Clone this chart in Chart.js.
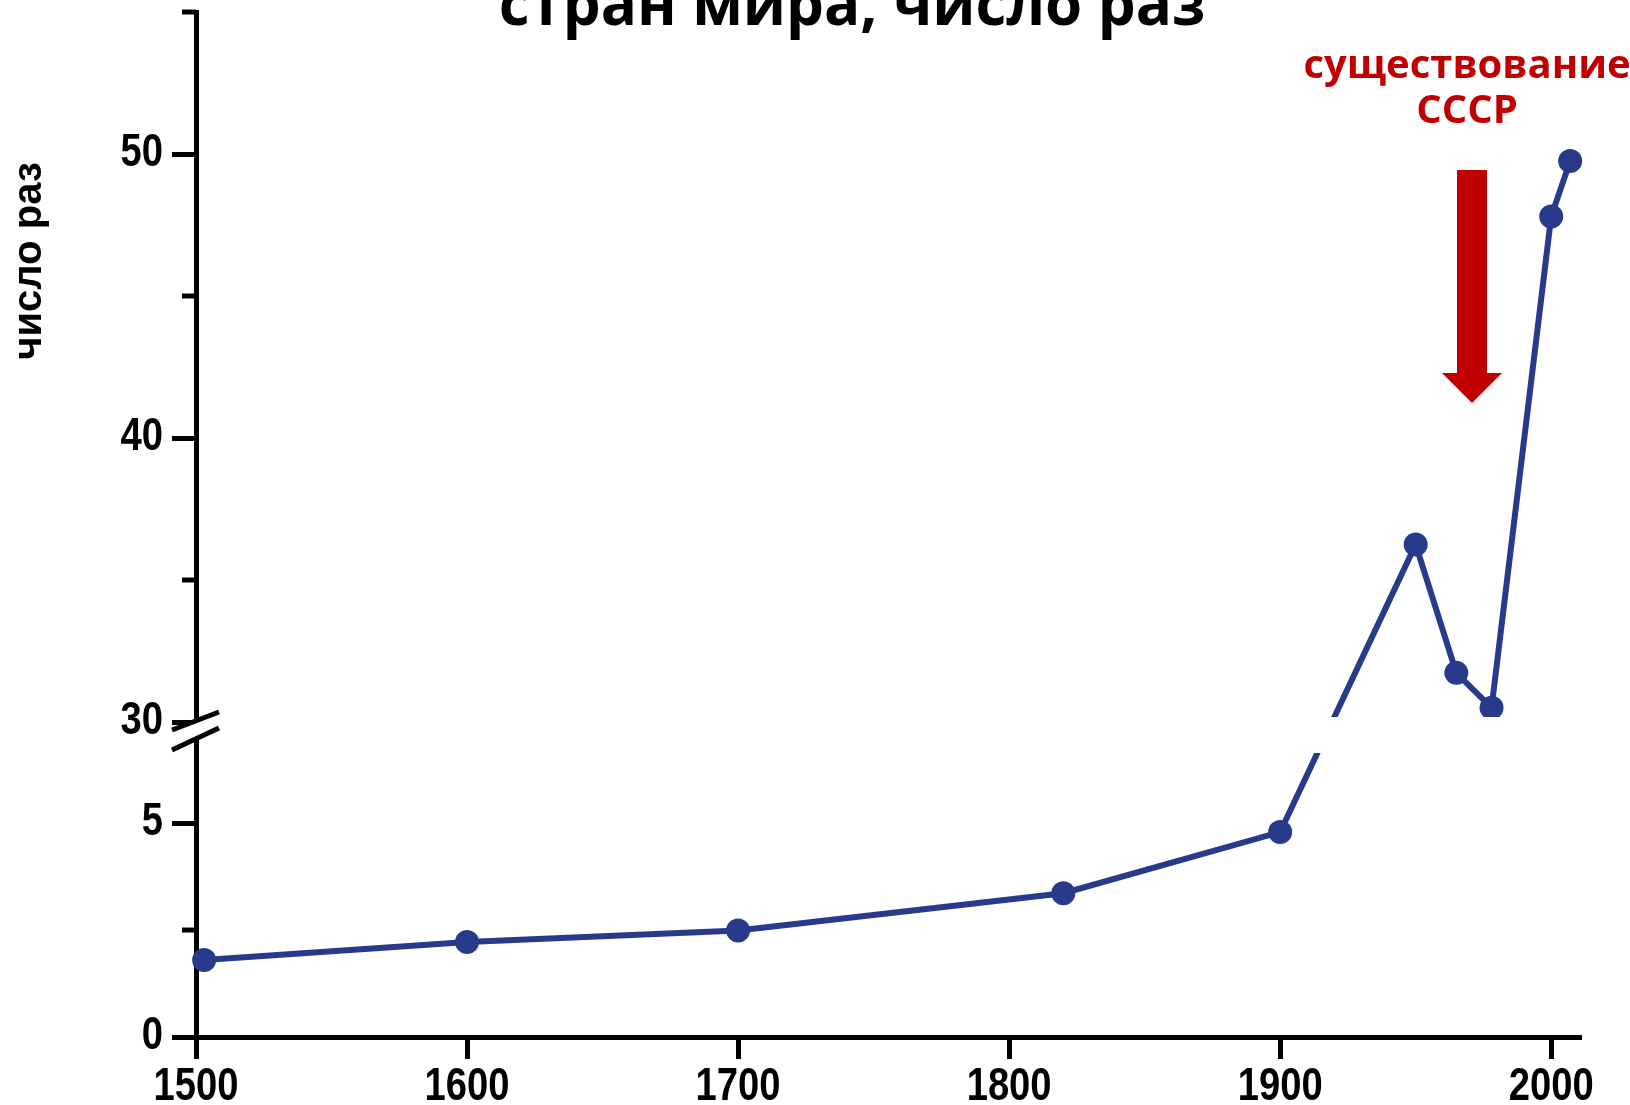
<!DOCTYPE html>
<html lang="ru">
<head>
<meta charset="utf-8">
<title>стран мира, число раз</title>
<script src="https://cdn.jsdelivr.net/npm/chart.js@4.4.1/dist/chart.umd.min.js"></script>
<style>
  html, body { margin: 0; padding: 0; background: #fff; }
  #wrap { width: 1630px; height: 1105px; }
</style>
</head>
<body>
<div id="wrap"><canvas id="line-chart" width="1630" height="1105"></canvas></div>
<script>
var years = [1503, 1600, 1700, 1820, 1900, 1950, 1965, 1978, 2000, 2007];
var ratio = [1.8, 2.22, 2.49, 3.36, 4.79, 36.25, 31.73, 30.5, 47.8, 49.75];
var xTicks = [1500, 1600, 1700, 1800, 1900, 2000];
var yTicks = [0, 5, 30, 40, 50];
var yMinorTicks = [2.5, 35, 45, 55];
var titleText = 'стран мира, число раз';
var yAxisText = 'число раз';
var noteLines = ['существование', 'СССР'];

var TICK_FONT = 'bold 46px "Liberation Sans", Arial, sans-serif';
var TEXT_FONT = '"Open Sans", "Noto Sans", sans-serif';
var BLUE = '#283a8a';
var RED = '#c00000';

// the y axis is broken: lower piece 0..6.8, a thin gap, upper piece 30..55
var LOW_TOP = 6.8, HIGH_BOTTOM = 30, Y_MAX = 55;
var pieces = [
    { from: 0, to: LOW_TOP, size: 291 },
    { from: LOW_TOP, to: HIGH_BOTTOM, size: 24 },
    { from: HIGH_BOTTOM, to: Y_MAX, size: 710 }
];
var total = pieces.reduce(function (s, p) { return s + p.size; }, 0);

class BrokenScale extends Chart.LinearScale {
    getPixelForValue(value) {
        var acc = 0;
        for (var i = 0; i < pieces.length; i++) {
            var p = pieces[i];
            if (value <= p.to || i === pieces.length - 1) {
                return this.getPixelForDecimal((acc + (value - p.from) / (p.to - p.from) * p.size) / total);
            }
            acc += p.size;
        }
    }
    getValueForPixel(pixel) {
        var d = this.getDecimalForPixel(pixel) * total, acc = 0;
        for (var i = 0; i < pieces.length; i++) {
            var p = pieces[i];
            if (d <= acc + p.size || i === pieces.length - 1) {
                return p.from + (d - acc) / p.size * (p.to - p.from);
            }
            acc += p.size;
        }
    }
}
BrokenScale.id = 'broken';
BrokenScale.defaults = Chart.LinearScale.defaults;
Chart.register(BrokenScale);

// narrow bold digits, like the original
function narrowText(ctx, text, x, y, align) {
    ctx.save();
    ctx.translate(x, y);
    ctx.scale(0.83, 1);
    ctx.textAlign = align;
    ctx.fillText(text, 0, 0);
    ctx.restore();
}

var decor = {
    id: 'decor',
    afterDatasetsDraw: function (chart) {
        var ctx = chart.ctx, ys = chart.scales.y, area = chart.chartArea;
        var ax = area.left;
        var p30 = ys.getPixelForValue(HIGH_BOTTOM), pLow = ys.getPixelForValue(LOW_TOP);
        ctx.save();
        // short ticks
        ctx.strokeStyle = '#000';
        ctx.lineWidth = 5;
        yMinorTicks.forEach(function (v) {
            var py = ys.getPixelForValue(v);
            ctx.beginPath();
            ctx.moveTo(ax - 14, py);
            ctx.lineTo(ax, py);
            ctx.stroke();
        });
        // break of the axis
        ctx.fillStyle = '#fff';
        ctx.fillRect(ax + 20, p30 - 5, area.right - ax - 20, pLow - p30 + 12);
        ctx.beginPath();
        ctx.moveTo(ax - 24, p30 + 8);
        ctx.lineTo(ax + 23, p30 - 10);
        ctx.lineTo(ax + 23, p30 + 6);
        ctx.lineTo(ax - 24, p30 + 28);
        ctx.closePath();
        ctx.fill();
        ctx.lineWidth = 5;
        ctx.beginPath();
        ctx.moveTo(ax - 24, p30 + 8);
        ctx.lineTo(ax + 23, p30 - 10);
        ctx.moveTo(ax - 24, p30 + 28);
        ctx.lineTo(ax + 23, p30 + 6);
        ctx.stroke();
        ctx.restore();
    },
    afterDraw: function (chart) {
        var ctx = chart.ctx, xs = chart.scales.x, ys = chart.scales.y;
        var ax = chart.chartArea.left;
        ctx.save();
        ctx.fillStyle = '#000';
        ctx.textBaseline = 'alphabetic';

        // tick labels
        ctx.font = TICK_FONT;
        xs.ticks.forEach(function (t) {
            narrowText(ctx, String(t.value), xs.getPixelForValue(t.value), 1100, 'center');
        });
        ys.ticks.forEach(function (t) {
            narrowText(ctx, String(t.value), ax - 33, ys.getPixelForValue(t.value) + 12, 'right');
        });

        ctx.textAlign = 'center';
        ctx.font = 'bold 60px ' + TEXT_FONT;
        ctx.fillText(titleText, 852, 25);

        ctx.save();
        ctx.translate(30, 261);
        ctx.rotate(-Math.PI / 2);
        ctx.font = 'bold 40px "Liberation Sans", Arial, sans-serif';
        ctx.textBaseline = 'middle';
        ctx.fillText(yAxisText, 0, 0);
        ctx.restore();

        ctx.fillStyle = RED;
        ctx.font = 'bold 40px ' + TEXT_FONT;
        ctx.fillText(noteLines[0], 1467, 78);
        ctx.fillText(noteLines[1], 1467, 123);

        // arrow
        ctx.fillRect(1457, 170, 30, 204);
        ctx.beginPath();
        ctx.moveTo(1442, 373);
        ctx.lineTo(1502, 373);
        ctx.lineTo(1472, 403);
        ctx.closePath();
        ctx.fill();
        ctx.restore();
    }
};

function noPad(s) {
    s.paddingTop = 0;
    s.paddingBottom = 0;
    s.paddingLeft = 0;
    s.paddingRight = 0;
}

const lineChart = document.getElementById('line-chart');
var CHART = new Chart(lineChart, {
    type: 'line',
    data: {
        datasets: [{
            data: years.map(function (y, i) { return { x: y, y: ratio[i] }; }),
            borderColor: BLUE,
            backgroundColor: BLUE,
            borderWidth: 6,
            pointRadius: 12,
            pointBorderWidth: 0,
            pointBackgroundColor: BLUE,
            tension: 0,
            fill: false,
            clip: false
        }]
    },
    options: {
        responsive: false,
        animation: false,
        layout: { padding: { top: 12, right: 49, left: 0, bottom: 0 } },
        plugins: { legend: { display: false }, tooltip: { enabled: false } },
        scales: {
            x: {
                type: 'linear',
                min: 1500,
                max: 2011,
                afterBuildTicks: function (s) { s.ticks = xTicks.map(function (v) { return { value: v }; }); },
                afterFit: function (s) { s.height = 68; noPad(s); },
                border: { display: true, color: '#000', width: 5 },
                grid: { drawOnChartArea: false, drawTicks: true, tickLength: 22, tickWidth: 5, tickColor: '#000' },
                ticks: { display: false }
            },
            y: {
                type: 'broken',
                min: 0,
                max: Y_MAX,
                afterBuildTicks: function (s) { s.ticks = yTicks.map(function (v) { return { value: v }; }); },
                afterFit: function (s) { s.width = 196; noPad(s); },
                border: { display: true, color: '#000', width: 5 },
                grid: { drawOnChartArea: false, drawTicks: true, tickLength: 24, tickWidth: 5, tickColor: '#000' },
                ticks: { display: false }
            }
        }
    },
    plugins: [decor]
});
</script>
</body>
</html>
